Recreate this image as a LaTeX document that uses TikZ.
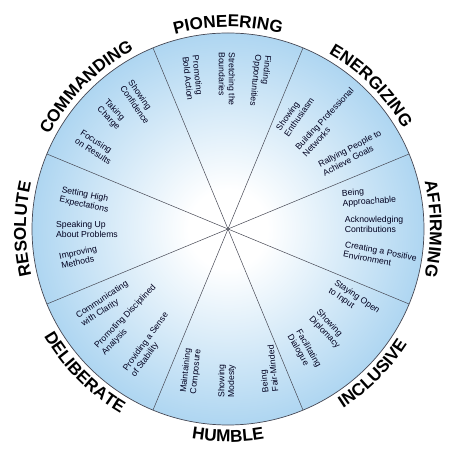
\documentclass[tikz,border=0pt]{standalone}
\usepackage{fontspec}
\setmainfont{Liberation Sans}
\usetikzlibrary{decorations.text}
\definecolor{wheelblue}{RGB}{116,184,231}
\definecolor{rimgrey}{RGB}{70,72,84}
\pgfdeclareradialshading{wheelshading}{\pgfpoint{0bp}{0bp}}{color(0bp)=(white); color(5bp)=(white); color(25bp)=(wheelblue!58!white); color(50bp)=(wheelblue)}
\newcommand{\itemfont}{\fontsize{8.7}{10}\selectfont}
\newcommand{\capfont}{\fontsize{17.2}{17}\selectfont\bfseries}

\begin{document}
\begin{tikzpicture}[x=1bp, y=1bp,
		item/.style={align=left, font=\itemfont, inner sep=0pt, text=black!88!blue},
		spoke/.style={draw=rimgrey, line width=0.5bp},
		caption/.style={decorate, decoration={text along path, text align=center, text={|\capfont|#1}}}]
			\useasboundingbox (-228,-230) rectangle (244,229);
			\coordinate (O) at (0,0);
			\shadedraw[shading=wheelshading, draw=rimgrey, line width=0.7bp] (O) circle[radius=196bp];

			\draw[spoke] (22.5:196bp) -- (202.5:196bp);
			\draw[spoke] (67.5:196bp) -- (247.5:196bp);
			\draw[spoke] (112.5:196bp) -- (292.5:196bp);
			\draw[spoke] (157.5:196bp) -- (337.5:196bp);

			\path[caption=PIONEERING] (120:202bp) arc[start angle=120, end angle=60, radius=202bp];
			\path[caption=ENERGIZING] (75:202bp) arc[start angle=75, end angle=15, radius=202bp];
			\path[caption=AFFIRMING] (30:202bp) arc[start angle=30, end angle=-30, radius=202bp];
			\path[caption=INCLUSIVE] (-75:213bp) arc[start angle=-75, end angle=-15, radius=213bp];
			\path[caption=HUMBLE] (-120:213bp) arc[start angle=-120, end angle=-60, radius=213bp];
			\path[caption=DELIBERATE] (-165:213bp) arc[start angle=-165, end angle=-105, radius=213bp];
			\path[caption=RESOLUTE] (210:202bp) arc[start angle=210, end angle=150, radius=202bp];
			\path[caption=COMMANDING] (165:202bp) arc[start angle=165, end angle=105, radius=202bp];

			\node[item, rotate=-84] (p1) at (-35,151) {Promoting\\Bold Action};
			\node[item, rotate=-90] (p2) at (-1,150) {Stretching the\\Boundaries};
			\node[item, rotate=-96] (p3) at (32,148) {Finding\\Opportunities};

			\node[item, rotate=55] (e1) at (67,115) {Showing\\Enthusiasm};
			\node[item, rotate=47] (e2) at (100,107) {Building Professional\\Networks};
			\node[item, rotate=28] (e3) at (124,76) {Rallying People to\\Achieve Goals};

			\node[item, rotate=4] (a1) at (141,32) {Being\\Approachable};
			\node[item, rotate=0] (a2) at (146,5) {Acknowledging\\Contributions};
			\node[item, rotate=-11] (a3) at (152,-27) {Creating a Positive\\Environment};

			\node[item, rotate=-34] (i1) at (126,-72) {Staying Open\\to Input};
			\node[item, rotate=-47] (i2) at (100,-100) {Showing\\Diplomacy};
			\node[item, rotate=-60] (i3) at (76,-122) {Facilitating\\Dialogue};

			\node[item, rotate=84] (h1) at (-37,-142) {Maintaining\\Composure};
			\node[item, rotate=90] (h2) at (-1,-152) {Showing\\Modesty};
			\node[item, rotate=96] (h3) at (40,-140) {Being\\Fair-Minded};

			\node[item, rotate=33] (d1) at (-123,-75) {Communicating\\with Clarity};
			\node[item, rotate=46] (d2) at (-99,-91) {Promoting Disciplined\\Analysis};
			\node[item, rotate=54] (d3) at (-78,-116) {Providing a Sense\\of Stability};

			\node[item, rotate=-12] (r1) at (-143,29) {Setting High\\Expectations};
			\node[item, rotate=0] (r2) at (-141,0) {Speaking Up\\About Problems};
			\node[item, rotate=12] (r3) at (-149,-28) {Improving\\Methods};

			\node[item, rotate=-55] (c1) at (-89,127) {Showing\\Confidence};
			\node[item, rotate=-46] (c2) at (-116,114) {Taking\\Charge};
			\node[item, rotate=-33] (c3) at (-132,82) {Focusing\\on Results};
		\end{tikzpicture}
\end{document}
